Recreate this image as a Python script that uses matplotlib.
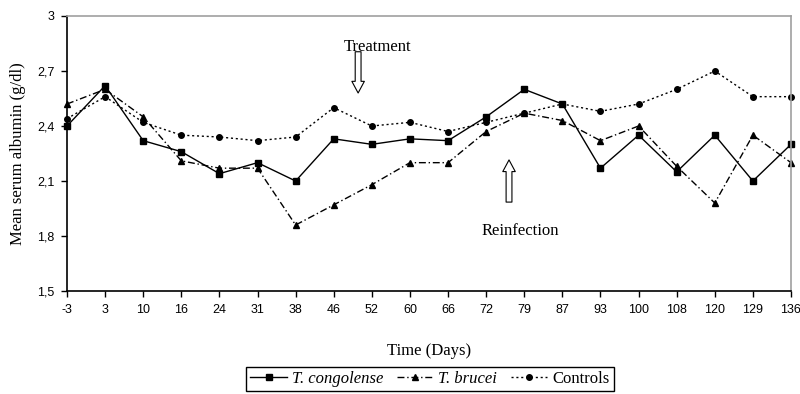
import matplotlib

matplotlib.use("Agg")
import matplotlib.pyplot as plt

# data
days = ["-3", "3", "10", "16", "24", "31", "38", "46", "52", "60",
        "66", "72", "79", "87", "93", "100", "108", "120", "129", "136"]
congolense = [2.40, 2.62, 2.32, 2.26, 2.14, 2.20, 2.10, 2.33, 2.30, 2.33,
              2.32, 2.45, 2.60, 2.52, 2.17, 2.35, 2.15, 2.35, 2.10, 2.30]
brucei = [2.52, 2.60, 2.45, 2.21, 2.17, 2.17, 1.86, 1.97, 2.08, 2.20,
          2.20, 2.37, 2.47, 2.43, 2.32, 2.40, 2.18, 1.98, 2.35, 2.20]
controls = [2.44, 2.56, 2.42, 2.35, 2.34, 2.32, 2.34, 2.50, 2.40, 2.42,
            2.37, 2.42, 2.47, 2.52, 2.48, 2.52, 2.60, 2.70, 2.56, 2.56]
yticks = [1.5, 1.8, 2.1, 2.4, 2.7, 3.0]
ytick_labels = ["1,5", "1,8", "2,1", "2,4", "2,7", "3"]

serif = "Liberation Serif"
sans = "Liberation Sans"

fig = plt.figure(figsize=(8, 3.94), dpi=100)
ax = fig.add_axes([0.08375, 0.2614, 0.905, 0.698])

x = list(range(len(days)))
ax.plot(x, congolense, color="black", lw=1.0, ls="-", marker="s", ms=4.5,
        label="T. congolense", clip_on=False)
ax.plot(x, brucei, color="black", lw=1.0, ls=(0, (5, 2, 1, 2)), marker="^", ms=4.5,
        label="T. brucei", clip_on=False)
ax.plot(x, controls, color="black", lw=1.0, ls=(0, (1.5, 2)), marker="o", ms=4,
        label="Controls", clip_on=False)

ax.set_xlim(0, len(days) - 1)
ax.set_ylim(1.5, 3.0)
ax.set_xticks(x)
ax.set_xticklabels(days, fontfamily=sans, fontsize=9)
ax.set_yticks(yticks)
ax.set_yticklabels(ytick_labels, fontfamily=sans, fontsize=9)
ax.tick_params(axis="both", direction="out", length=4, width=1, color="black", pad=5)

for side in ("top", "right"):
    ax.spines[side].set_color("#a0a0a0")
    ax.spines[side].set_linewidth(1.2)
for side in ("left", "bottom"):
    ax.spines[side].set_color("black")
    ax.spines[side].set_linewidth(1.2)

ax.set_ylabel("Mean serum albumin (g/dl)", fontfamily=serif, fontsize=12, labelpad=8)
ax.set_xlabel("Time (Days)", fontfamily=serif, fontsize=12, labelpad=20)

# hollow block arrows for treatment / reinfection
arrow = dict(arrowstyle="simple,head_length=0.7,head_width=0.75,tail_width=0.35",
             fc="white", ec="black", lw=0.8, shrinkA=0, shrinkB=0, mutation_scale=12)
ax.annotate("", xy=(7.64, 2.58), xytext=(7.64, 2.805), arrowprops=arrow)
ax.annotate("", xy=(11.6, 2.215), xytext=(11.6, 1.985), arrowprops=arrow)
ax.text(8.15, 2.83, "Treatment", fontfamily=serif, fontsize=12, ha="center", va="center")
ax.text(11.9, 1.83, "Reinfection", fontfamily=serif, fontsize=12, ha="center", va="center")

leg = fig.legend(loc="upper center", bbox_to_anchor=(0.5375, 0.0685), ncol=3,
                 frameon=True, fancybox=False, edgecolor="black", framealpha=1,
                 prop={"family": serif, "size": 12}, handlelength=2.2,
                 handletextpad=0.3, columnspacing=0.8, borderpad=0.25,
                 borderaxespad=0)
leg.get_frame().set_linewidth(1.0)
for t in leg.get_texts()[:2]:
    t.set_fontstyle("italic")

fig.savefig("out.png", dpi=100)
